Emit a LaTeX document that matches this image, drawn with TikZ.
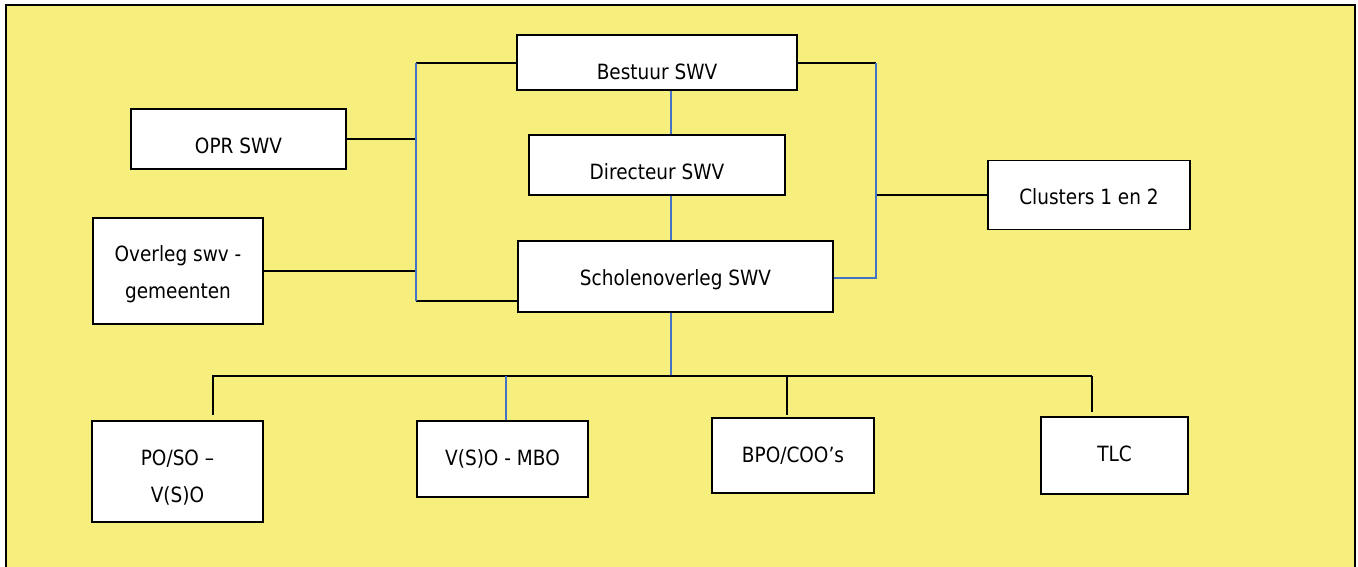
\documentclass[tikz,border=0pt]{standalone}
\usepackage{fontspec}
\setmainfont{DejaVu Sans}[FakeStretch=0.88]
\usepackage{tikz}
\usetikzlibrary{positioning}
\definecolor{frameyellow}{RGB}{247,239,125}
\definecolor{linkblue}{RGB}{68,114,196}
\tikzset{
	box/.style={draw, fill=white, line width=1.8pt, inner sep=0pt, align=center, font=\fontsize{21}{37}\selectfont, text depth=0pt},
	link/.style={line width=1.3pt},
	bluelink/.style={link, draw=linkblue},
}

\begin{document}
\begin{tikzpicture}[x=1pt, y=-1pt]
	\useasboundingbox (0,0) rectangle (1358,566);
	\fill[frameyellow] (6,5) rectangle (1355,580);
	\draw[line width=2.2pt] (6,580) -- (6,5) -- (1355,5) -- (1355,580);
	
	\node[box, minimum width=280, minimum height=55, text height=33] (bestuur) at (657,62.5) {Bestuur SWV};
	\node[box, minimum width=256, minimum height=60, text height=28] (directeur) at (657,165) {Directeur SWV};
	\node[box, minimum width=315, minimum height=71, text height=17] (scholen) at (675.5,276.5) {Scholenoverleg SWV};
	\node[box, minimum width=215, minimum height=60, text height=28] (opr) at (238.5,139) {OPR SWV};
	\node[box, minimum width=170, minimum height=106, text height=60, text depth=6] (overleg) at (178,271) {Overleg swv -\\gemeenten};
	\node[box, minimum width=202, minimum height=69, text height=19] (clusters) at (1089,195) {Clusters 1 en 2};
	
	\node[box, minimum width=171, minimum height=101, text height=61] (poso) at (177.5,471.5) {PO/SO –\\V(S)O};
	\node[box, minimum width=171, minimum height=76, text height=12] (vsombo) at (502.5,459) {V(S)O - MBO};
	\node[box, minimum width=162, minimum height=75, text height=13] (bpo) at (793,455.5) {BPO/COO’s};
	\node[box, minimum width=147, minimum height=77, text height=11] (tlc) at (1114.5,455.5) {TLC};
	
	\coordinate (lt) at (416,63);
	\coordinate (lb) at (416,301);
	\coordinate (rt) at (876,63);
	\coordinate (rb) at (876,278);
	\coordinate (spine) at (671,376);
	\coordinate (bl) at (213,376);
	\coordinate (bv) at (506,376);
	\coordinate (bb) at (787,376);
	\coordinate (br) at (1092,376);
	
	\draw[link] (lt) -- (lt -| bestuur.west);
	\draw[link] (lb) -- (lb -| scholen.west);
	\draw[link] (opr) -- (opr -| lt);
	\draw[link] (overleg) -- (overleg -| lt);
	\draw[bluelink] (lt) -- (lb);
	
	\draw[link] (rt -| bestuur.east) -- (rt);
	\draw[link] (clusters) -- (clusters -| rt);
	\draw[bluelink] (rt) -- (rb) -- (rb -| scholen.east);
	
	\draw[bluelink] (bestuur.south -| spine) -- (directeur.north -| spine);
	\draw[bluelink] (directeur.south -| spine) -- (scholen.north -| spine);
	\draw[bluelink] (scholen.south -| spine) -- (spine);
	
	\draw[link, shorten >=5pt] (br) -- (bl) -- (bl |- poso.north);
	\draw[link, shorten >=4pt] (br) -- (br |- tlc.north);
	\draw[link, shorten >=2pt] (bb) -- (bb |- bpo.north);
	\draw[bluelink] (bv) -- (bv |- vsombo.north);
\end{tikzpicture}
\end{document}
